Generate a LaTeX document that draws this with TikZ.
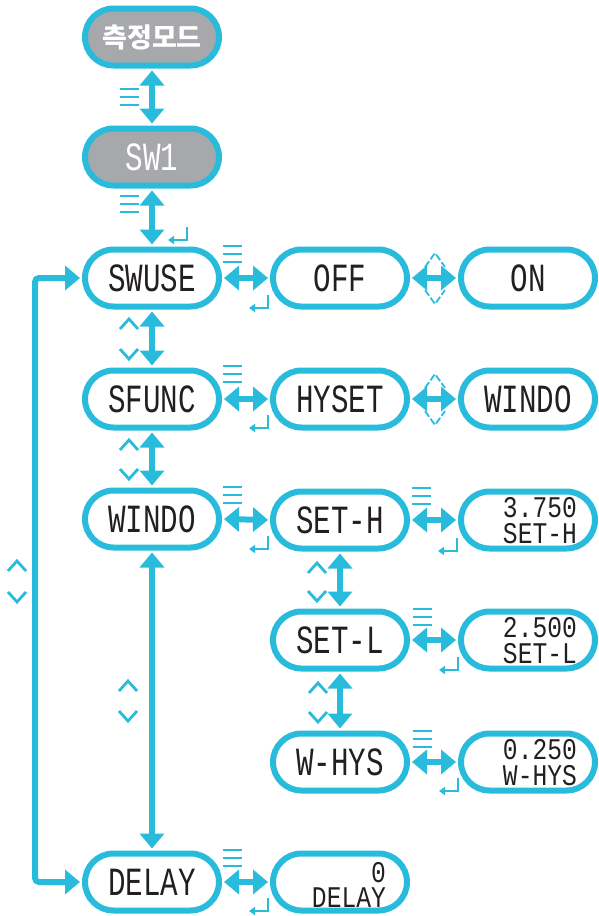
\documentclass[tikz,border=0pt]{standalone}
\usepackage{fontspec}
\newfontfamily\lcd{Liberation Mono}[FakeStretch=0.73]
\newfontfamily\lcdb{Liberation Mono}[FakeStretch=0.82]
\newfontfamily\kr{Noto Sans CJK KR}
\usetikzlibrary{arrows.meta}
\definecolor{cy}{RGB}{41,187,219}
\definecolor{gr}{RGB}{166,168,171}
\definecolor{ink}{RGB}{35,31,32}
\begin{document}
\begin{tikzpicture}[x=1pt,y=-1pt,
 box/.style={draw=cy,line width=6pt,fill=white,rounded corners=28.5pt,minimum width=134pt,minimum height=57pt,inner sep=0pt,text=ink,font={\lcd\fontsize{40}{40}\selectfont}},
 gbox/.style={box,fill=gr,text=white},
 two/.style={anchor=base east,inner sep=0pt,text height=21pt,text depth=1pt,text=ink,font={\lcdb\fontsize{30}{30}\selectfont}},
 dbl/.style={draw=cy,line width=6pt,{Triangle[width=24pt,length=15pt]}-{Triangle[width=24pt,length=15pt]},shorten <=2pt,shorten >=2pt},
 menu/.pic={\draw[cy,line width=2.6pt] (-9.5,-8)--(9.5,-8) (-9.5,0)--(9.5,0) (-9.5,8)--(9.5,8);},
 ret/.pic={\draw[cy,line width=2.2pt,-{Triangle[width=8pt,length=6pt]}] (0,0)--(0,13)--(-19,13);},
 cup/.pic={\draw[cy,line width=2.8pt] (-9,5)--(0,-5)--(9,5);},
 cdn/.pic={\draw[cy,line width=2.8pt] (-9,-5)--(0,5)--(9,-5);},
 dup/.pic={\draw[cy,line width=1.8pt,dash pattern=on 7pt off 2.5pt] (-10,7)--(0,-7)--(10,7);},
 ddn/.pic={\draw[cy,line width=1.8pt,dash pattern=on 7pt off 2.5pt] (-10,-7)--(0,7)--(10,-7);}
]
\useasboundingbox (0,0) rectangle (599,916);
% column A
\node[gbox,font={\kr\bfseries\fontsize{27}{27}\selectfont}] (m) at (152,37) {측정모드};
\node[gbox] (sw) at (152,157) {SW1};
\node[box] (swuse) at (152,278) {SWUSE};
\node[box] (sfunc) at (152,399) {SFUNC};
\node[box] (windo) at (152,519) {WINDO};
\node[box] (delay) at (152,882) {DELAY};
% column B
\node[box] (off) at (340,278) {OFF};
\node[box] (hyset) at (340,399) {HYSET};
\node[box] (seth) at (340,520) {SET-H};
\node[box] (setl) at (340,640) {SET-L};
\node[box] (whys) at (340,762) {W-HYS};
\node[box] (dv) at (340,882) {};
% column C
\node[box] (on) at (528,278) {ON};
\node[box] (wind2) at (528,399) {WINDO};
\node[box] (v1) at (528,520) {};
\node[box] (v2) at (528,640) {};
\node[box] (v3) at (528,762) {};
\node[two] (t1a) at ([xshift=-21pt,yshift=3pt]v1.east) {3.750};
\node[two] (t1b) at ([xshift=-21pt,yshift=-23pt]v1.east) {SET-H};
\node[two] (t2a) at ([xshift=-21pt,yshift=3pt]v2.east) {2.500};
\node[two] (t2b) at ([xshift=-21pt,yshift=-23pt]v2.east) {SET-L};
\node[two] (t3a) at ([xshift=-21pt,yshift=3pt]v3.east) {0.250};
\node[two] (t3b) at ([xshift=-21pt,yshift=-23pt]v3.east) {W-HYS};
\node[two] (t4a) at ([xshift=-24pt,yshift=0pt]dv.east) {0};
\node[two] (t4b) at ([xshift=-24pt,yshift=-25pt]dv.east) {DELAY};
% vertical connectors
\draw[dbl] (m.south) -- (sw.north);
\draw[dbl] (sw.south) -- (swuse.north);
\draw[dbl] (swuse.south) -- (sfunc.north);
\draw[dbl] (sfunc.south) -- (windo.north);
\draw[dbl] (windo.south) -- (delay.north);
\draw[dbl] (seth.south) -- (setl.north);
\draw[dbl] (setl.south) -- (whys.north);
% loop
\coordinate (lt) at (35,278);
\coordinate (lb) at (35,882);
\draw[dbl,rounded corners=4pt] (swuse.west) -- (lt) -- (lb) -- (delay.west);
% horizontal connectors
\draw[dbl] (swuse.east) -- (off.west);
\draw[dbl] (off.east) -- (on.west);
\draw[dbl] (sfunc.east) -- (hyset.west);
\draw[dbl] (hyset.east) -- (wind2.west);
\draw[dbl] (windo.east) -- (seth.west);
\draw[dbl] (seth.east) -- (v1.west);
\draw[dbl] (setl.east) -- (v2.west);
\draw[dbl] (whys.east) -- (v3.west);
\draw[dbl] (delay.east) -- (dv.west);
% key symbols
\pic at (129,97) {menu};
\pic at (129,204) {menu};
\pic at (187,227) {ret};
\pic at (129,324) {cup};
\pic at (129,354) {cdn};
\pic at (129,445) {cup};
\pic at (129,474) {cdn};
\pic at (128,686) {cup};
\pic at (128,716) {cdn};
\pic at (17,566) {cup};
\pic at (17,597) {cdn};
\pic at (317,568) {cup};
\pic at (317,596) {cdn};
\pic at (318,688) {cup};
\pic at (318,717) {cdn};
\pic at (232,254) {menu};
\pic at (268,295) {ret};
\pic at (232,374) {menu};
\pic at (268,415) {ret};
\pic at (232,495) {menu};
\pic at (268,536) {ret};
\pic at (421,496) {menu};
\pic at (457,538) {ret};
\pic at (422,617) {menu};
\pic at (458,657) {ret};
\pic at (422,739) {menu};
\pic at (458,778) {ret};
\pic at (232,858) {menu};
\pic at (268,898) {ret};
\pic at (435,260) {dup};
\pic at (435,297) {ddn};
\pic at (435,381) {dup};
\pic at (435,418) {ddn};
\end{tikzpicture}
\end{document}
